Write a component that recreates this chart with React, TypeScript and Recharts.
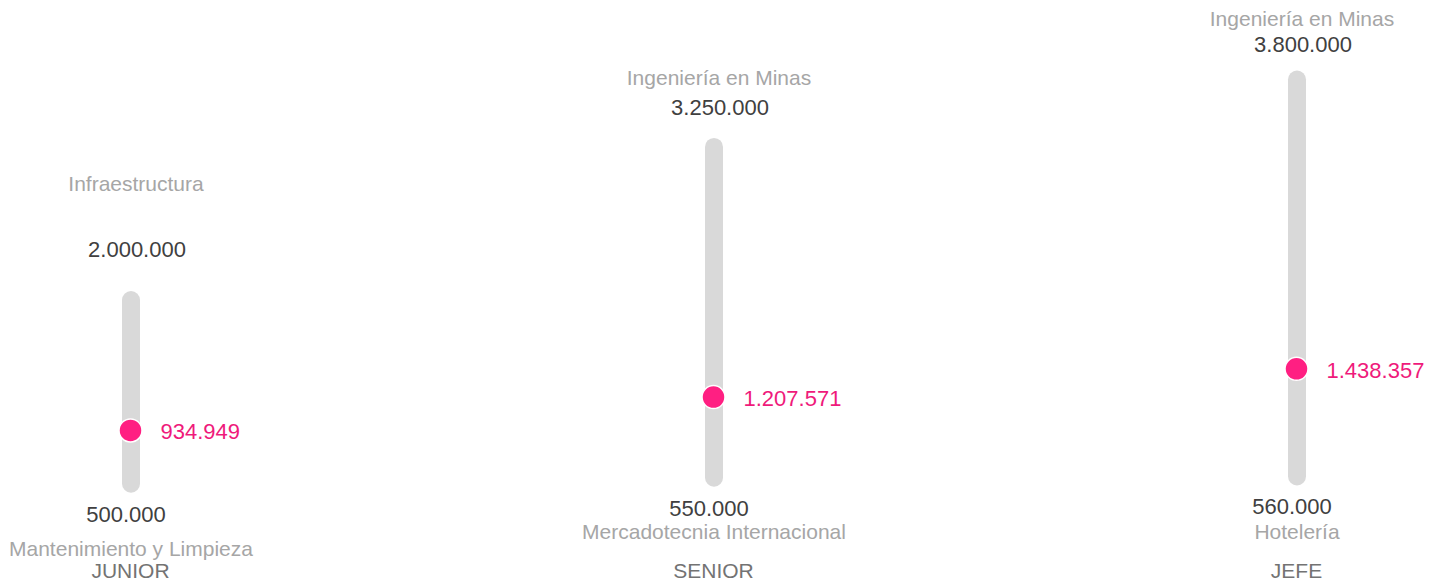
import React from "react";
import { Bar, ComposedChart, Line, XAxis, YAxis } from "recharts";

const levels = ["JUNIOR", "SENIOR", "JEFE"];
const minSalary = [500000, 550000, 560000];
const maxSalary = [2000000, 3250000, 3800000];
const avgSalary = [934949, 1207571, 1438357];
const minCareer = ["Mantenimiento y Limpieza", "Mercadotecnia Internacional", "Hotelería"];
const maxCareer = ["Infraestructura", "Ingeniería en Minas", "Ingeniería en Minas"];

const data = levels.map((level, i) => ({
  level,
  range: [minSalary[i], maxSalary[i]],
  avg: avgSalary[i],
  minCareer: minCareer[i],
  maxCareer: maxCareer[i],
  min: minSalary[i],
  max: maxSalary[i],
}));

// label spacing per column (px)
const topValueGap = [51, 40, 36];
const topNameGap = [66, 29.5, 25];
const bottomValueGap = 30;
const bottomNameGap = [35, 24, 25.5];

const PINK = "#ff1f82";
const fmt = (v: number) => String(v).replace(/\B(?=(\d{3})+(?!\d))/g, ".");

const RangeShape = (props: any) => {
  const { x, y, width, height, payload, index } = props;
  const cx = x + width / 2;
  const r = width / 2;
  const top = y;
  const bottom = y + height;
  const topVal = top - topValueGap[index];
  const topName = topVal - topNameGap[index];
  const botVal = bottom + bottomValueGap;
  const botName = botVal + bottomNameGap[index];
  return (
    <g>
      <rect x={x} y={top - r} width={width} height={height + 2 * r} rx={r} ry={r} fill="#d9d9d9" />
      <text x={cx + 5} y={topName + 7.5} textAnchor="middle" fontSize={21} fill="#a6a6a6">
        {payload.maxCareer}
      </text>
      <text x={cx + 6} y={topVal + 8} textAnchor="middle" fontSize={22} fill="#404040">
        {fmt(payload.max)}
      </text>
      <text x={cx - 5} y={botVal + 8} textAnchor="middle" fontSize={22} fill="#404040">
        {fmt(payload.min)}
      </text>
      <text x={cx} y={botName + 7.5} textAnchor="middle" fontSize={21} fill="#a6a6a6">
        {payload.minCareer}
      </text>
    </g>
  );
};

const AvgDot = (props: any) => {
  const { cx, cy, payload, index } = props;
  return (
    <g key={`avg-${index}`}>
      <circle cx={cx} cy={cy} r={11.5} fill={PINK} stroke="#ffffff" strokeWidth={1.5} />
      <text x={cx + 30} y={cy + 9} fontSize={22} fill="#ef1a7b">
        {fmt(payload.avg)}
      </text>
    </g>
  );
};

const LevelTick = (props: any) => {
  const { x, y, payload } = props;
  return (
    <text x={x} y={y + 32.5} textAnchor="middle" fontSize={21} fill="#737373">
      {payload.value}
    </text>
  );
};

export default function App() {
  return (
    <div
      style={{
        position: "absolute",
        left: 0,
        top: 0,
        width: 1429,
        height: 581,
        overflow: "hidden",
        background: "#ffffff",
        fontFamily: "'Liberation Sans', Arial, sans-serif",
      }}
    >
      <div style={{ position: "absolute", left: -161, top: 0 }}>
        <ComposedChart
          width={1749}
          height={581}
          data={data}
          margin={{ top: 55, right: 0, bottom: 0, left: 0 }}
        >
          <XAxis
            dataKey="level"
            height={36}
            axisLine={false}
            tickLine={false}
            tickSize={0}
            tickMargin={0}
            tick={<LevelTick />}
          />
          <YAxis hide domain={[0, 4000000]} />
          <Bar dataKey="range" barSize={18} shape={<RangeShape />} isAnimationActive={false} />
          <Line
            dataKey="avg"
            stroke="none"
            dot={<AvgDot />}
            activeDot={false}
            isAnimationActive={false}
          />
        </ComposedChart>
      </div>
    </div>
  );
}
